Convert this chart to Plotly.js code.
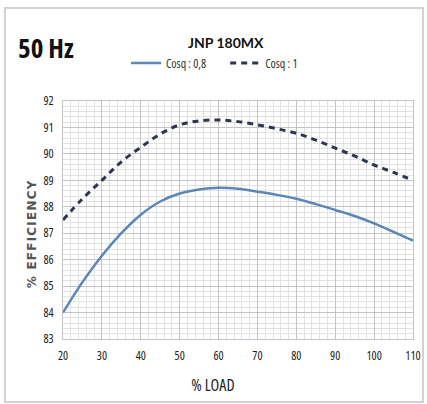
<!DOCTYPE html>
<html><head><meta charset="utf-8">
<script src="https://cdn.plot.ly/plotly-3.0.1.min.js"></script>
<style>html,body{margin:0;padding:0;background:#fff}#c{width:427px;height:404px}
#c svg text{font-stretch:condensed !important}
#c g.annotation[data-index="1"] text,#c g.annotation[data-index="3"] text{font-stretch:normal !important}
#c g.annotation[data-index="3"] text{letter-spacing:1.2px}</style>
</head><body><div id="c"></div>
<script>
var load = [20,25,30,35,40,45,50,55,60,65,70,75,80,85,90,95,100,105,110];
var effCos08 = [84.0,85.15,86.15,87.0,87.7,88.2,88.5,88.65,88.72,88.68,88.57,88.45,88.3,88.1,87.88,87.65,87.37,87.05,86.72];
var effCos1 = [87.5,88.3,89.0,89.7,90.25,90.75,91.1,91.25,91.28,91.22,91.1,90.95,90.78,90.52,90.22,89.92,89.58,89.3,89.0];
var xTicks = [20,30,40,50,60,70,80,90,100,110];
var yTicks = [83,84,85,86,87,88,89,90,91,92];
var names = ['Cosq : 0,8','Cosq : 1'];

var narrow = '"Open Sans", sans-serif';
var traces = [
  {x: load, y: effCos08, name: names[0], mode: 'lines', line: {color: '#5a86b8', width: 2.5, shape: 'spline'}},
  {x: load, y: effCos1, name: names[1], mode: 'lines', line: {color: '#2c3552', width: 3, dash: '6px,5px', shape: 'spline'}}
];
var layout = {
  width: 427, height: 404,
  margin: {l: 63, r: 14, t: 101, b: 65},
  paper_bgcolor: '#fff', plot_bgcolor: '#fff',
  showlegend: true,
  legend: {orientation: 'h', x: 0.45, xanchor: 'center', y: 1.16, yanchor: 'middle',
    font: {family: narrow, size: 12, color: '#333'}, bgcolor: 'rgba(0,0,0,0)', itemwidth: 30},
  xaxis: {range: [20, 110], tickvals: xTicks, ticktext: xTicks.map(String),
    showgrid: true, gridcolor: '#c4c4c4', gridwidth: 1,
    minor: {dtick: 2, showgrid: true, gridcolor: '#e2e2e2', gridwidth: 1},
    showline: true, mirror: true, linecolor: '#c4c4c4', zeroline: false,
    ticks: 'outside', ticklen: 6, tickcolor: 'rgba(0,0,0,0)',
    tickfont: {family: narrow, size: 12, color: '#222'}, fixedrange: true},
  yaxis: {range: [83, 92], tickvals: yTicks, ticktext: yTicks.map(String),
    showgrid: true, gridcolor: '#c4c4c4', gridwidth: 1,
    minor: {dtick: 0.2, showgrid: true, gridcolor: '#e2e2e2', gridwidth: 1},
    showline: true, mirror: true, linecolor: '#c4c4c4', zeroline: false,
    ticks: 'outside', ticklen: 6, tickcolor: 'rgba(0,0,0,0)',
    tickfont: {family: narrow, size: 12, color: '#222'}, fixedrange: true},
  shapes: [
    {type: 'rect', xref: 'paper', yref: 'paper', x0: -0.166, x1: 1.0286, y0: -0.265, y1: 1.391,
     line: {color: '#d2d2d2', width: 2}, fillcolor: 'rgba(0,0,0,0)', layer: 'below'}
  ],
  annotations: [
    {text: '<b>50 Hz</b>', xref: 'paper', yref: 'paper', x: -0.158, y: 1.225, xanchor: 'left', yanchor: 'middle',
     showarrow: false, font: {family: narrow, size: 27, color: '#111'}},
    {text: '<b>JNP 180MX</b>', xref: 'paper', yref: 'paper', x: 0.466, y: 1.244, xanchor: 'center', yanchor: 'middle',
     showarrow: false, font: {family: 'Lato, sans-serif', size: 14, color: '#111'}},
    {text: '% LOAD', xref: 'paper', yref: 'paper', x: 0.429, y: -0.193, xanchor: 'center', yanchor: 'middle',
     showarrow: false, font: {family: narrow, size: 16, color: '#222'}},
    {text: '<b>% EFFICIENCY</b>', xref: 'paper', yref: 'paper', x: -0.089, y: 0.445, xanchor: 'center', yanchor: 'middle',
     textangle: -90, showarrow: false, font: {family: '"DejaVu Sans", sans-serif', size: 12, color: '#555'}}
  ]
};
Plotly.newPlot('c', traces, layout, {displayModeBar: false, staticPlot: true});
</script></body></html>
